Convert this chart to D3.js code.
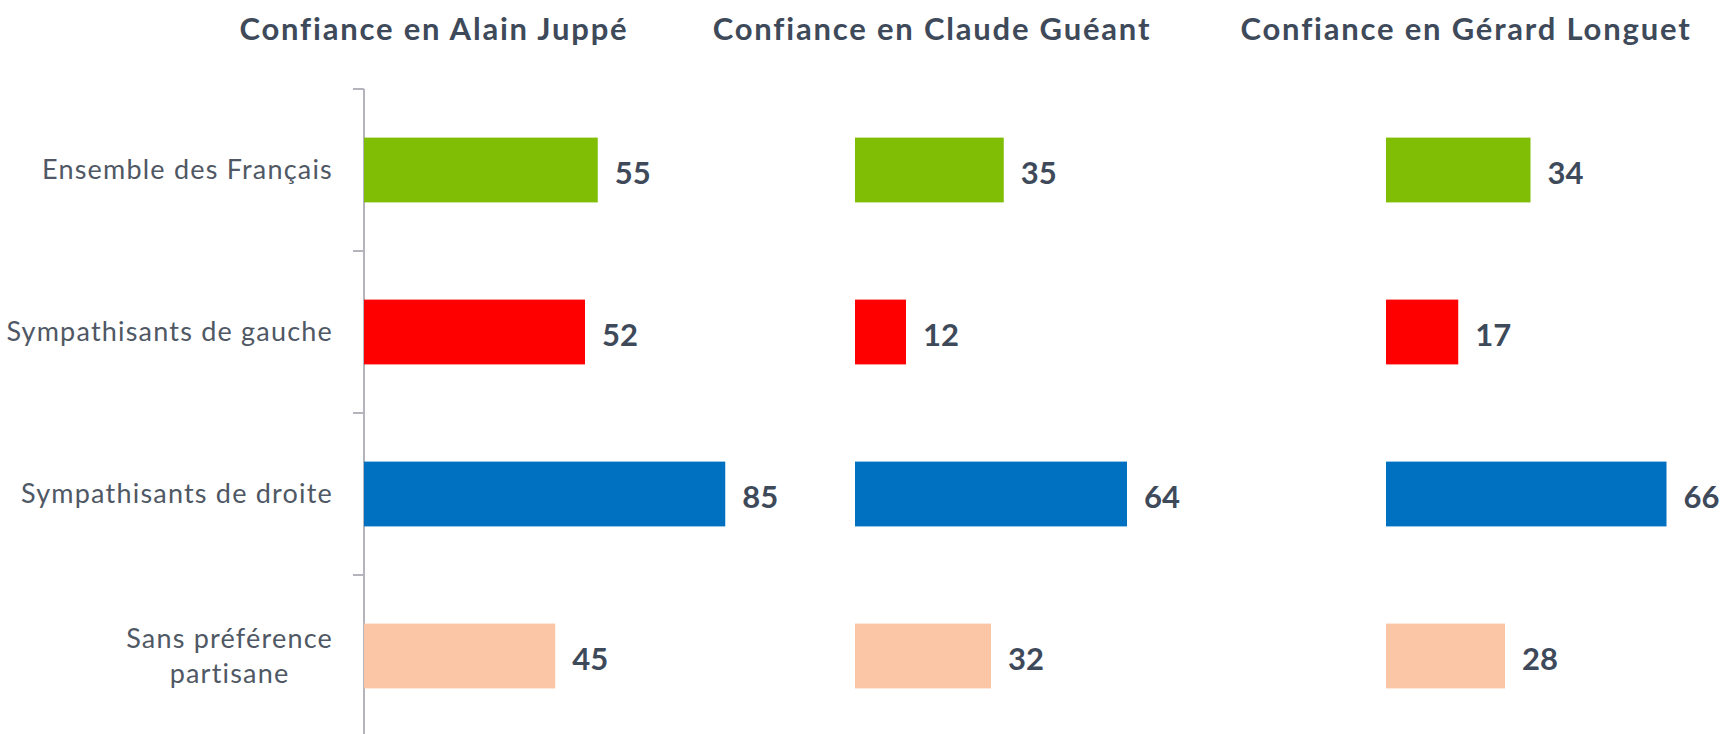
<!DOCTYPE html>
<html>
<head>
<meta charset="utf-8">
<script src="https://cdn.jsdelivr.net/npm/d3@7"></script>
<style>
  body { margin: 0; background: #fff; }
  svg { display: block; font-family: Lato, "Open Sans", sans-serif; }
  .title { font-weight: bold; fill: #3e4a5a; letter-spacing: 1.8px; }
  .cat { fill: #4f5864; letter-spacing: 1.2px; }
  .value { font-weight: bold; fill: #3e4a5a; }
  .axis line { stroke: #b4b4bc; stroke-width: 2; }
</style>
</head>
<body>
<script>
(function () {

  let categories = [
    'Ensemble des Français',
    'Sympathisants de gauche',
    'Sympathisants de droite',
    'Sans préférence partisane'
  ];

  // labels are split on two lines where the original wraps them
  let categoryLines = [
    ['Ensemble des Français'],
    ['Sympathisants de gauche'],
    ['Sympathisants de droite'],
    ['Sans préférence', 'partisane']
  ];

  let colors = ['#7fbe04', '#ff0000', '#0070c0', '#fbc6a6'];

  let titles = [
    'Confiance en Alain Juppé',
    'Confiance en Claude Guéant',
    'Confiance en Gérard Longuet'
  ];

  let juppe   = [55, 52, 85, 45];
  let gueant  = [35, 12, 64, 32];
  let longuet = [34, 17, 66, 28];

  let series = [juppe, gueant, longuet];

  function go() {

    let width  = 1724;
    let height = 734;

    // left edge of each panel's bars, and the centre of its title
    let panelX = [364, 855, 1386];
    let titleX = [434, 932, 1466];

    let svg = d3.select('body').append('svg')
        .attr('width', width)
        .attr('height', height)
        .attr('viewBox', '0 0 ' + width + ' ' + height);

    let y = d3.scaleBand()
        .domain(categories)
        .range([89, 737])
        .paddingInner(0.6)
        .paddingOuter(0.3);

    let x = d3.scaleLinear().domain([0, 100]).range([0, 425]);

    // category axis on the first panel only: line + ticks between the bands
    let step = y.step();
    let axis = svg.append('g').attr('class', 'axis');
    axis.append('line')
      .attr('x1', panelX[0]).attr('x2', panelX[0])
      .attr('y1', y.range()[0]).attr('y2', height);
    let bounds = d3.range(categories.length + 1).map(i => y.range()[0] + i * step);
    axis.selectAll('line.tick').data(bounds).enter()
      .append('line')
      .attr('class', 'tick')
      .attr('x1', panelX[0] - 11).attr('x2', panelX[0])
      .attr('y1', d => d).attr('y2', d => d);

    let catFont = 27;
    let labels = svg.append('g');
    categories.forEach(function (c, i) {
      let lines = categoryLines[i];
      let cy = y(c) + y.bandwidth() / 2;
      let lineH = 35;
      let t = labels.append('text')
          .attr('class', 'cat')
          .attr('font-size', catFont)
          .attr('text-anchor', 'end');
      lines.forEach(function (l, j) {
        t.append('tspan')
          .attr('x', panelX[0] - 31)
          .attr('y', cy + (j - (lines.length - 1) / 2) * lineH)
          .attr('dy', '0.35em')
          .text(l);
      });
      if (lines.length > 1) {
        // centre the lines on each other, right aligned as a block
        let w = d3.max(t.selectAll('tspan').nodes(), n => n.getComputedTextLength());
        t.attr('text-anchor', 'middle');
        t.selectAll('tspan').attr('x', panelX[0] - 31 - w / 2);
      }
    });

    series.forEach(function (values, p) {
      let g = svg.append('g')
          .attr('transform', 'translate(' + panelX[p] + ',0)');

      svg.append('text')
        .attr('class', 'title')
        .attr('x', titleX[p])
        .attr('y', 40)
        .attr('text-anchor', 'middle')
        .attr('font-size', 31)
        .text(titles[p]);

      g.selectAll('rect').data(values).enter()
        .append('rect')
        .attr('x', 0)
        .attr('y', (d, i) => y(categories[i]))
        .attr('width', d => x(d))
        .attr('height', y.bandwidth())
        .attr('fill', (d, i) => colors[i]);

      g.selectAll('text.value').data(values).enter()
        .append('text')
        .attr('class', 'value')
        .attr('font-size', 31)
        .attr('x', d => x(d) + 17)
        .attr('y', (d, i) => y(categories[i]) + y.bandwidth() / 2)
        .attr('dy', '0.44em')
        .text(d => d);
    });
  }

  document.addEventListener('DOMContentLoaded', go);

})();
</script>
</body>
</html>
